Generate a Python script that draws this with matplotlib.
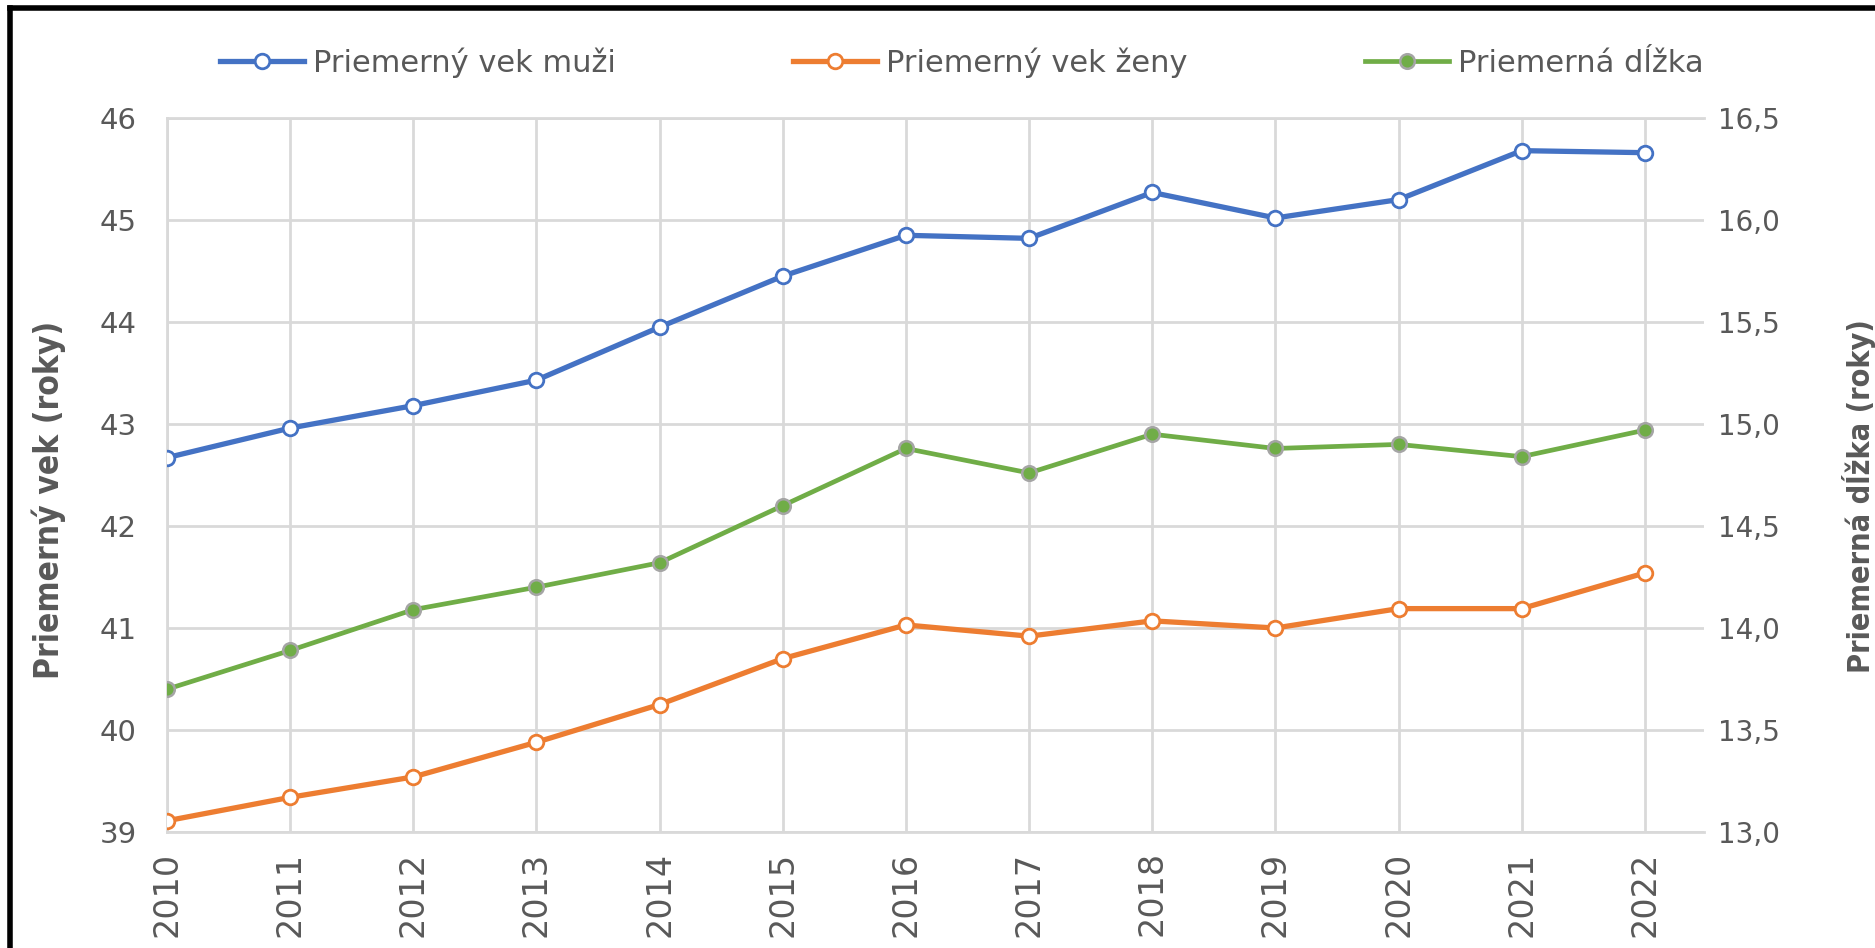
import matplotlib
matplotlib.use("Agg")
from matplotlib import pyplot as plt
from matplotlib.lines import Line2D

# data
roky = [2010, 2011, 2012, 2013, 2014, 2015, 2016, 2017, 2018, 2019, 2020, 2021, 2022]
vek_muzi = [42.67, 42.96, 43.18, 43.43, 43.95, 44.45, 44.85, 44.82, 45.27, 45.02, 45.20, 45.68, 45.66]
vek_zeny = [39.11, 39.34, 39.54, 39.88, 40.25, 40.70, 41.03, 40.92, 41.07, 41.00, 41.19, 41.19, 41.54]
dlzka = [13.70, 13.89, 14.09, 14.20, 14.32, 14.60, 14.88, 14.76, 14.95, 14.88, 14.90, 14.84, 14.97]

left_ticks = [39, 40, 41, 42, 43, 44, 45, 46]
right_ticks = [13.0, 13.5, 14.0, 14.5, 15.0, 15.5, 16.0, 16.5]

gray = '#595959'
grid = '#d9d9d9'

fig = plt.figure(figsize=(18.75, 9.48), dpi=100)
ax = fig.add_axes([167/1875, 1-832/948, (1704-167)/1875, (832-118)/948])
ax2 = ax.twinx()

blue_style = dict(color='#4472C4', lw=3.8, marker='o', ms=10.5, mfc='white', mec='#4472C4', mew=2)
orange_style = dict(color='#ED7D31', lw=3.8, marker='o', ms=10.5, mfc='white', mec='#ED7D31', mew=2)
green_style = dict(color='#70AD47', lw=3.4, marker='o', ms=10.5, mfc='#70AD47', mec='#A5A5A5', mew=1.8)

ax.plot(roky, vek_muzi, zorder=5, **blue_style)
ax.plot(roky, vek_zeny, zorder=5, **orange_style)
ax2.plot(roky, dlzka, zorder=5, **green_style)

ax.set_xlim(2010, 2022.48)
ax.set_ylim(39, 46)
ax2.set_ylim(13, 16.5)

ax.set_xticks(roky)
ax.set_xticklabels([str(r) for r in roky], rotation=90, fontsize=24, color=gray)
ax.set_yticks(left_ticks)
ax.set_yticklabels([str(t) for t in left_ticks], fontsize=21, color=gray)
ax2.set_yticks(right_ticks)
ax2.set_yticklabels([('%.1f' % t).replace('.', ',') for t in right_ticks], fontsize=20, color=gray)

ax.tick_params(axis='both', length=0)
ax.tick_params(axis='y', pad=22)
ax.tick_params(axis='x', pad=14)
ax2.tick_params(axis='y', length=0, pad=10)

ax.grid(True, color=grid, lw=2)
ax.set_axisbelow(True)
for s in ['top', 'bottom', 'left']:
    ax.spines[s].set_color(grid)
    ax.spines[s].set_linewidth(2)
ax.spines['right'].set_visible(False)
for s in ax2.spines.values():
    s.set_visible(False)

ax.set_ylabel('Priemerný vek (roky)', fontsize=24, fontweight='bold', color=gray,
              fontstretch='condensed')
ax.yaxis.set_label_coords(-0.066, 0.465)
ax2.set_ylabel('Priemerná dĺžka (roky)', fontsize=22, fontweight='bold', color=gray,
               fontstretch='condensed')
ax2.yaxis.set_label_coords(1.090, 0.47)

handles = [Line2D([], [], **blue_style), Line2D([], [], **orange_style), Line2D([], [], **green_style)]
leg = fig.legend(handles, ['Priemerný vek muži', 'Priemerný vek ženy', 'Priemerná dĺžka'],
                 loc='center', bbox_to_anchor=(0.513, 0.934), ncol=3, frameon=False,
                 prop={'size': 22}, handlelength=2.75, handletextpad=0.3, columnspacing=5.8)
for t in leg.get_texts():
    t.set_color(gray)

# black frame on the left and top of the picture
fig.add_artist(Line2D([10/1875, 10/1875], [0, 1-8/948], color='black', lw=4))
fig.add_artist(Line2D([10/1875, 1], [1-8/948, 1-8/948], color='black', lw=4))

fig.savefig('out.png', dpi=100)
